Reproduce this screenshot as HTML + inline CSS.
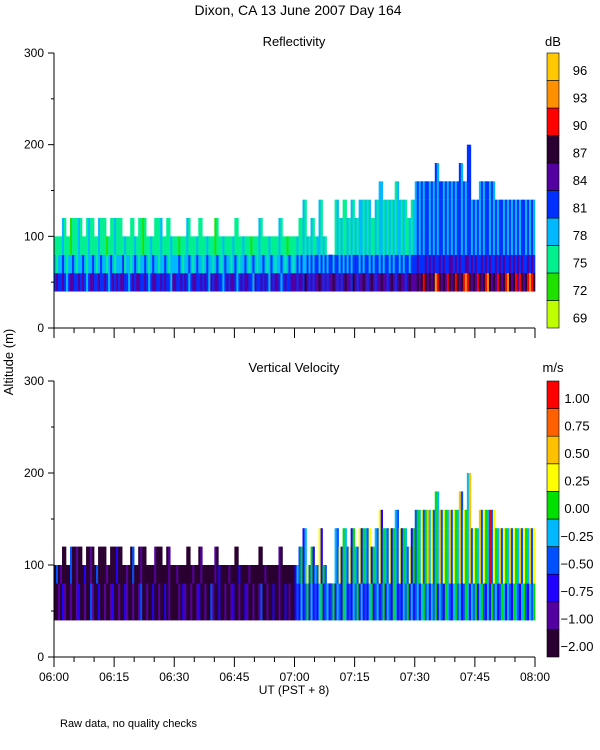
<!DOCTYPE html>
<html><head><meta charset="utf-8">
<style>
html,body{margin:0;padding:0;background:#fff;}
svg{display:block;font-family:"Liberation Sans",sans-serif;}
text{fill:#000;}
</style></head>
<body>
<svg id="chart" width="600" height="750" viewBox="0 0 600 750" xmlns="http://www.w3.org/2000/svg">
<text x="298" y="15" font-size="14" text-anchor="middle">Dixon, CA 13 June 2007  Day 164</text>
<text x="294" y="46" font-size="13" text-anchor="middle">Reflectivity</text>
<text x="294" y="372" font-size="13" text-anchor="middle">Vertical Velocity</text>
<text x="553" y="46" font-size="13" text-anchor="middle">dB</text>
<text x="553" y="372" font-size="13" text-anchor="middle">m/s</text>
<text x="0" y="0" font-size="13" text-anchor="middle" transform="translate(13,362) rotate(-90)">Altitude (m)</text>
<text x="294" y="694" font-size="12" text-anchor="middle">UT  (PST + 8)</text>
<text x="60" y="727" font-size="11">Raw data, no quality checks</text>
<g id="layer"></g>
</svg>
<script>
// time axis: 240 half-minute columns, 06:00-08:00
const xTickLabels = ["06:00","06:15","06:30","06:45","07:00","07:15","07:30","07:45","08:00"];
const yTickLabels = [0,100,200,300];
const gateBottoms = [40,60,80,100,120,140,160,180];
// number of filled gates per minute (both panels)
const tops = "334344434434434443343443344343333433433343333433333433334333345343532254545455545655565545666667666667685566665555555555";
// reflectivity class per half-minute column: bottom gate, middle gate, upper gates
const reflBot = "454454345544545434554454454345454554434545544543455445454435544545434554454543545544345455434545544354454543545543454455545546545455654545565454565546545565456545565545654565545655565676565687656576567656787656576567865657656786567576567876";
const reflMid = "323343233432334323343234332343233342332343233432343323343233334323343234332343323432343323432334323432334323432334323432343433434344343434434434343434443434434344343443434434344344454445454544545445545454455454544545454454545445454545445454";
const reflUp  = "222232221222322223222232221222322223222232221222322223222232221222322223222232221222322223222232221222322223222232221222232232323223323232332323223232323323232232332323232332322323343434434343443434343443434434343434434343443434343434434343";
// velocity class per half-minute column: lower gates, upper gates
const velLow  = "001021001001200100310020010012001002100100130010020010020100001021001001200100310020010012001002100100130010020010020100232423524232452342352432542324352423245234235243254232435242342453424352432543245342354243524532425342354243254324532435";
const velHigh = "030100003001000200100300001000020000100300010000001000000100010000000100010000001020000100002000010000000100000010000000243524635243625346254362543625436254362543625436254362543625354635746354736547365473654736547365493654736547365473654736";
const reflLevels = ["69","72","75","78","81","84","87","90","93","96"];
const velLevels = ["\u22122.00","\u22121.00","\u22120.75","\u22120.50","\u22120.25","0.00","0.25","0.50","0.75","1.00"];
const reflColors = ["#c0ff00","#20e000","#00f090","#00b8ff","#0030ff","#5400a0","#2a0030","#ff0000","#ff9000","#ffc800"];
const velColors = ["#2a0030","#5400a0","#2000ff","#0050ff","#00b8ff","#00e000","#ffff00","#ffc000","#ff6000","#ff0000"];

const NS="http://www.w3.org/2000/svg";
const layer=document.getElementById('layer');
const X0=54, X1=535, NCOL=240;
function xs(min){return X0+(X1-X0)*min/120;}
function mk(tag,attrs){const e=document.createElementNS(NS,tag);for(const k in attrs)e.setAttribute(k,attrs[k]);layer.appendChild(e);return e;}

function panel(yTop,yBot,classFor,colors,levels,prefix,labelX){
  const ys=v=>yBot-(yBot-yTop)*v/300;
  const cw=(X1-X0)/NCOL;
  for(let c=0;c<NCOL;c++){
    const n=parseInt(tops.charAt(c>>1)||"3");
    for(let g=0;g<n;g++){
      const k=classFor(c,g);
      const r=mk('rect',{x:(X0+c*cw).toFixed(2),y:ys(gateBottoms[g]+20).toFixed(2),width:(cw+0.3).toFixed(2),height:(ys(gateBottoms[g])-ys(gateBottoms[g]+20)+0.2).toFixed(2),fill:colors[k]});
      
      
    }
  }
  const ax=mk('path',{d:`M${X0} ${yTop}V${yBot}H${X1}`,stroke:'#000',fill:'none','stroke-width':1});
  
  
  for(let v=0;v<=300;v+=50){
    const t=mk('line',{x1:X0,x2:X0-(v%100?3:6),y1:ys(v),y2:ys(v),stroke:'#000'});
    
    
  }
  yTickLabels.forEach(v=>{
    const t=mk('text',{x:44,y:ys(v)+4,'font-size':12,'text-anchor':'end'});t.textContent=v;
    
    
  });
  for(let m=0;m<=120;m+=5){
    const t=mk('line',{x1:xs(m),x2:xs(m),y1:yBot,y2:yBot+(m%15?5:10),stroke:'#000'});
    
    
  }
  const bh=(yBot-yTop)/10;
  for(let i=0;i<10;i++){
    const r=mk('rect',{x:547,y:yBot-(i+1)*bh,width:12,height:bh,fill:colors[i],stroke:'#000','stroke-width':0.6});
    
    
    const t=mk('text',{x:labelX,y:yBot-i*bh-bh/2+8,'font-size':13,'text-anchor':'middle'});t.textContent=levels[i];
    
    
  }
}
const ch=(s,c)=>parseInt(s.charAt(c)||"3");
panel(53,328,(c,g)=>g===0?ch(reflBot,c):(g===1?ch(reflMid,c):ch(reflUp,c)),reflColors,reflLevels,'reflectivity',580);
panel(381,657,(c,g)=>g<2?ch(velLow,c):ch(velHigh,c),velColors,velLevels,'velocity',577);
xTickLabels.forEach((s,i)=>{
  const t=mk('text',{x:xs(i*15),y:681,'font-size':12,'text-anchor':'middle'});t.textContent=s;
  
  
});
</script>
</body></html>
